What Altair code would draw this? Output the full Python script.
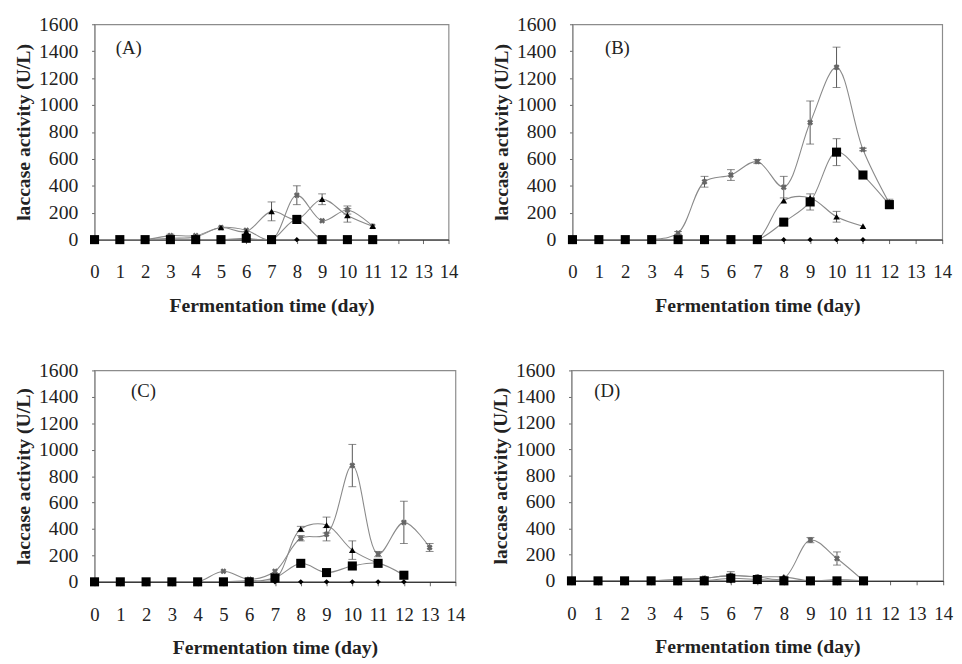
import altair as alt
import pandas as pd

# ---------------- data ----------------
A_days = list(range(12))
A_diamond = [0, 0, 0, 0, 0, 0, 0, 0, 0, 0, 0, 0]
A_square = [0, 0, 0, 0, 0, 0, 10, 0, 150, 0, 0, 0]
A_triangle = [0, 0, 0, 10, 20, 90, 60, 210, 150, 300, 180, 100]
A_cross = [0, 0, 0, 30, 30, 90, 70, 0, 330, 140, 220, 100]
A_triangle_err = [0, 0, 0, 0, 0, 0, 0, 70, 30, 40, 50, 0]
A_cross_err = [0, 0, 0, 10, 0, 0, 0, 0, 70, 0, 30, 0]

B_days = list(range(13))
B_diamond = [0, 0, 0, 0, 0, 0, 0, 0, 0, 0, 0, 0, None]
B_square = [0, 0, 0, 0, 0, 0, 0, 0, 130, 280, 650, 480, 260]
B_triangle = [0, 0, 0, 0, 0, 0, 0, 0, 290, 310, 170, 100, None]
B_cross = [0, 0, 0, 0, 50, 430, 480, 580, 390, 870, 1280, 670, 270]
B_square_err = [0, 0, 0, 0, 0, 0, 0, 0, 0, 60, 100, 0, 30]
B_triangle_err = [0, 0, 0, 0, 0, 0, 0, 0, 0, 0, 40, 0, 0]
B_cross_err = [0, 0, 0, 0, 10, 40, 40, 15, 80, 160, 150, 10, 30]

C_days = list(range(14))
C_diamond = [0, 0, 0, 0, 0, 0, 0, 0, 0, 0, 0, 0, 0, None]
C_square = [0, 0, 0, 0, 0, 0, 0, 30, 140, 70, 120, 140, 50, None]
C_triangle = [0, 0, 0, 0, 0, 0, 10, 20, 400, 430, 240, 140, None, None]
C_cross = [0, 0, 0, 0, 0, 80, 20, 80, 330, 360, 880, 210, 450, 260]
C_triangle_err = [0, 0, 0, 0, 0, 0, 0, 0, 20, 60, 70, 0, 0, 0]
C_cross_err = [0, 0, 0, 0, 0, 0, 0, 0, 20, 50, 160, 20, 160, 30]

D_days = list(range(12))
D_diamond = [0, 0, 0, 0, 0, 0, 0, 0, 0, 0, 0, 0]
D_square = [0, 0, 0, 0, 0, 0, 20, 10, 0, 0, 0, 0]
D_triangle = [0, 0, 0, 0, 10, 20, 40, 30, 30, 0, 10, 0]
D_cross = [0, 0, 0, 0, 10, 20, 40, 30, 20, 310, 170, 0]
D_cross_err = [0, 0, 0, 0, 0, 0, 30, 10, 0, 20, 50, 0]

panel_labels = ["(A)", "(B)", "(C)", "(D)"]
label_x = [1.35, 1.7, 1.9, 1.35]
label_y = [1420, 1420, 1440, 1440]

x_ticks = list(range(15))
y_ticks = list(range(0, 1601, 200))

FONT = "Liberation Serif"
TXT = "#222"


def long_df(days, series):
    rows = []
    for name, (vals, errs) in series.items():
        for i, d in enumerate(days):
            v = vals[i]
            if v is None:
                continue
            e = errs[i] if errs is not None else 0
            rows.append({"day": d, "value": v, "series": name, "err": e})
    return pd.DataFrame(rows)


XS = alt.Scale(domain=[0, 14], nice=False)
YS = alt.Scale(domain=[0, 1600], nice=False)
XAX = alt.Axis(values=x_ticks, title="Fermentation time (day)",
               grid=False, tickSize=4, labelPadding=20,
               titlePadding=14, format="d", labelOverlap=False,
               labelFlush=False, labelFontSize=19,
               domainColor="#222", tickColor="#666")
YAX = alt.Axis(values=y_ticks, title="laccase activity (U/L)",
               grid=False, tickSize=3, labelPadding=14,
               titlePadding=5, format="d", labelOverlap=False,
               labelFlush=False,
               domainColor="#888", tickColor="#666")


def panel(days, series, label, lx, ly, w, h):
    df = long_df(days, series)
    x = alt.X("day:Q", scale=XS, axis=XAX)
    y = alt.Y("value:Q", scale=YS, axis=YAX)
    base = alt.Chart(df).encode(x=x, y=y)
    lines = base.mark_line(interpolate="catmull-rom", color="#8a8a8a",
                           strokeWidth=1.1, clip=True).encode(detail="series:N")
    errdf = base.transform_filter("datum.err > 0").transform_calculate(
        lo="datum.value - datum.err", hi="datum.value + datum.err")
    rules = errdf.mark_rule(color="#555", strokeWidth=1).encode(
        y=alt.Y("lo:Q", scale=YS, axis=YAX), y2="hi:Q")
    cap_lo = errdf.mark_tick(color="#555", thickness=1, size=8,
                             orient="horizontal").encode(
        y=alt.Y("lo:Q", scale=YS, axis=YAX))
    cap_hi = errdf.mark_tick(color="#555", thickness=1, size=8,
                             orient="horizontal").encode(
        y=alt.Y("hi:Q", scale=YS, axis=YAX))
    diamonds = base.transform_filter("datum.series == 'diamond'").mark_point(
        shape="diamond", filled=True, color="black", size=30, opacity=1)
    squares = base.transform_filter("datum.series == 'square'").mark_point(
        shape="square", filled=True, color="black", size=85, opacity=1)
    triangles = base.transform_filter("datum.series == 'triangle'").mark_point(
        shape="triangle-up", filled=True, color="black", size=45, opacity=1)
    crosses = base.transform_filter("datum.series == 'cross'").mark_point(
        shape="cross", filled=True, color="#666", size=38, angle=45, opacity=1)
    lab = alt.Chart(pd.DataFrame({"t": [label], "x": [lx], "y": [ly]})).mark_text(
        font=FONT, fontSize=19, color=TXT).encode(
        x=alt.X("x:Q", scale=XS, axis=XAX),
        y=alt.Y("y:Q", scale=YS, axis=YAX),
        text="t:N")
    return alt.layer(lines, rules, cap_lo, cap_hi, crosses, triangles,
                     squares, diamonds, lab).properties(width=w, height=h)


pA = panel(A_days, {"diamond": (A_diamond, None), "square": (A_square, None),
                    "triangle": (A_triangle, A_triangle_err),
                    "cross": (A_cross, A_cross_err)},
           panel_labels[0], label_x[0], label_y[0], 360, 219)
pB = panel(B_days, {"diamond": (B_diamond, None), "square": (B_square, B_square_err),
                    "triangle": (B_triangle, B_triangle_err),
                    "cross": (B_cross, B_cross_err)},
           panel_labels[1], label_x[1], label_y[1], 376, 219)
pC = panel(C_days, {"diamond": (C_diamond, None), "square": (C_square, None),
                    "triangle": (C_triangle, C_triangle_err),
                    "cross": (C_cross, C_cross_err)},
           panel_labels[2], label_x[2], label_y[2], 367, 215)
pD = panel(D_days, {"diamond": (D_diamond, None), "square": (D_square, None),
                    "triangle": (D_triangle, None),
                    "cross": (D_cross, D_cross_err)},
           panel_labels[3], label_x[3], label_y[3], 378, 214)

chart = alt.vconcat(
    alt.hconcat(pA, pB, spacing=32),
    alt.hconcat(pC, pD, spacing=24),
    spacing=44,
    background="white",
    padding={"left": 5, "top": 0, "right": 0, "bottom": 0},
).configure_view(stroke="#8c8c8c", strokeWidth=1.2).configure_axis(
    labelFont=FONT, labelFontSize=20, labelColor=TXT, labelOverlap=False,
    titleFont=FONT, titleFontSize=20, titleFontWeight="bold", titleColor=TXT,
)

chart.save("out.html", embed_options={"renderer": "svg", "actions": False})
